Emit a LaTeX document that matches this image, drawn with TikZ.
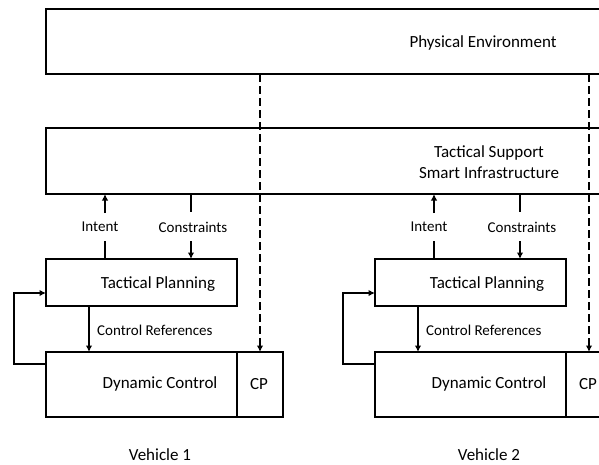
\documentclass[tikz,border=0pt]{standalone}
\usepackage{fontspec}
\setmainfont{Carlito}
\usetikzlibrary{arrows.meta,calc}
\begin{document}
\begin{tikzpicture}[x=1pt,y=-1pt,
  box/.style={draw,line width=2pt,rectangle,inner sep=0pt,outer sep=0pt},
  big/.style={font=\fontsize{17}{21}\selectfont,inner sep=0pt,align=center},
  small/.style={font=\fontsize{15}{18}\selectfont,inner sep=0pt},
  link/.style={line width=2pt},
  arr/.style={link,-{Latex[length=6.5pt,width=6.5pt]}},
  sense/.style={arr,dash pattern=on 8pt off 4pt}]
\useasboundingbox (0,0) rectangle (599,464);
\clip (0,0) rectangle (599,464);

% shared layers
\node[box,minimum width=566pt,minimum height=65pt] (env) at (329,41.5) {};
\node[big] (envt) at (483,43) {Physical Environment};
\node[box,minimum width=566pt,minimum height=66pt] (infra) at (329,161) {};
\node[big] (infrat) at (489,162) {Tactical Support\\Smart Infrastructure};

% one vehicle stack per column
\foreach \v/\dx in {1/0,2/329}{
  \node[box,minimum width=191pt,minimum height=47pt] (tp\v) at (\dx+141.5,282.5) {};
  \node[big] (tpt\v) at (\dx+158,284) {Tactical Planning};
  \node[box,minimum width=191pt,minimum height=65pt] (dc\v) at (\dx+141.5,384.5) {};
  \node[big] (dct\v) at (\dx+160,384) {Dynamic Control};
  \node[box,minimum width=46pt,minimum height=65pt] (cp\v) at (\dx+260,384.5) {};
  \node[big] (cpt\v) at (\dx+259,384) {CP};
  \node[small] (int\v) at (\dx+100,227) {Intent};
  \node[small] (con\v) at (\dx+193,227) {Constraints};
  \node[small,anchor=west] (ref\v) at (\dx+97,330) {Control References};
  \node[big] (veh\v) at (\dx+160,455) {Vehicle \v};

  \coordinate (iu\v) at (\dx+105,0);
  \coordinate (cu\v) at (\dx+191,0);
  \coordinate (ru\v) at (\dx+89,0);

  % intent: planning -> infrastructure
  \draw[link] (tp\v.north -| iu\v) -- ($(tp\v.north -| iu\v)+(0,-18)$);
  \draw[arr] ($(infra.south -| iu\v)+(0,19)$) -- (infra.south -| iu\v);
  % constraints: infrastructure -> planning
  \draw[link] (infra.south -| cu\v) -- ($(infra.south -| cu\v)+(0,18)$);
  \draw[arr] ($(tp\v.north -| cu\v)+(0,-18)$) -- (tp\v.north -| cu\v);
  % control references
  \draw[arr] (tp\v.south -| ru\v) -- (dc\v.north -| ru\v);
  % feedback loop
  \draw[arr] (dc\v.west |- 0,364) -- ++(-32,0) |- (tp\v.west |- 0,293);
  % sensing from the environment
  \draw[sense] (env.south -| cp\v) -- (cp\v.north);
}
\end{tikzpicture}
\end{document}
